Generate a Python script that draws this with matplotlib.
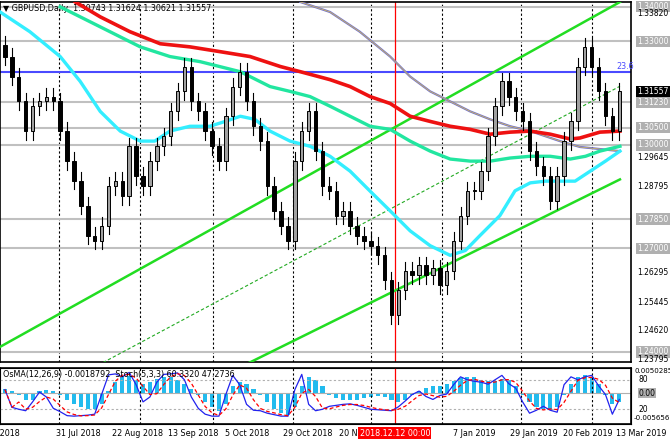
import matplotlib
matplotlib.use("Agg")
import matplotlib.pyplot as plt
import matplotlib.transforms as mtrans
import numpy as np

closes = [1.3256,1.3198,1.3126,1.3040,1.3112,1.3126,1.3140,1.3126,1.3040,1.2953,1.2896,1.2824,1.2737,1.2723,1.2766,
 1.2881,1.2896,1.2852,1.2996,1.2910,1.2881,1.2953,1.2996,1.3025,1.3097,1.3155,1.3227,1.3126,1.3097,1.3040,
 1.2996,1.2953,1.3083,1.3169,1.3212,1.3126,1.3054,1.3011,1.2881,1.2809,1.2766,1.2723,1.2953,1.3040,1.3097,
 1.2982,1.2881,1.2867,1.2795,1.2809,1.2766,1.2737,1.2723,1.2708,1.2680,1.2608,1.2507,1.2579,1.2636,1.2622,
 1.2651,1.2622,1.2642,1.2593,1.2636,1.2723,1.2795,1.2867,1.2867,1.2924,1.3025,1.3112,1.3184,1.3140,1.3097,
 1.3068,1.2982,1.2939,1.2910,1.2838,1.2910,1.3011,1.3068,1.3227,1.3284,1.3227,1.3155,1.3083,1.3040,1.31557]
first_open = 1.3290
stoch = [60,24,20,17,35,55,45,22,15,7,6,7,8,10,50,90,92,86,95,70,35,45,75,91,92,94,80,45,22,10,6,6,50,89,70,30,18,17,12,9,
 6,6,60,91,30,17,20,26,28,30,31,28,24,20,19,18,17,25,37,50,57,46,40,48,51,70,86,80,77,75,71,80,89,72,63,35,12,18,26,18,
 14,70,86,80,86,89,68,50,10,40]
osma = [1.0,0.5,-0.5,-1.5,-1.5,0.5,0.8,0.5,-0.5,-1.5,-2.5,-3.2,-3.6,-3.5,-2.5,0.5,2.5,3.5,3.8,3.0,2.0,2.5,3.2,3.5,3.5,
 3.0,2.0,1.0,-0.5,-2.0,-3.0,-4.0,-2.5,1.5,2.5,2.0,1.0,-0.5,-2.0,-3.5,-4.5,-5.0,-3.0,1.5,3.5,3.0,1.5,-0.5,-1.0,-1.5,
 -1.5,-1.5,-1.2,-0.8,-0.6,-0.8,-1.5,-2.0,-1.5,-0.5,0.5,1.2,1.5,1.5,2.0,2.8,3.3,3.6,3.5,3.0,2.8,2.7,3.2,3.0,1.5,
 -0.5,-2.0,-3.0,-3.5,-3.8,-3.0,-0.5,2.0,3.5,4.0,3.5,2.0,-0.5,-2.5,-2.0]
ma_cyan_x = [-0.7,3.6,8,10.9,13.8,16.7,19.6,21.7,23.9,26.8,29.7,31.9,34.1,36.2,38.4,41.3,44.2,47.1,50,52.9,55.8,58.7,61.6,64.5,66.7,68.8,71.7,73.9,76.1,78.3,80.4,82.6,84.8,87,89.1]
ma_cyan_y = [1.3385,1.3328,1.3256,1.3184,1.3097,1.3040,1.3011,1.3011,1.3040,1.3054,1.3054,1.3068,1.3083,1.3074,1.3040,1.3011,1.2996,1.2967,1.2924,1.2866,1.2809,1.2751,1.2708,1.2680,1.2694,1.2737,1.2795,1.2867,1.2890,1.2895,1.2895,1.2895,1.2924,1.2953,1.2982]
ma_green_x = [8,13.8,19.6,23.9,28.3,34.1,38.4,41.3,44.2,47.1,50,52.9,55.8,58.7,61.6,64.5,67.4,70.3,73.2,76.1,79,81.9,84.1,86.2,89.1]
ma_green_y = [1.3400,1.3342,1.3284,1.3256,1.3241,1.3212,1.3169,1.3155,1.3140,1.3112,1.3083,1.3054,1.3045,1.3011,1.2982,1.2959,1.2953,1.2953,1.2962,1.2967,1.2967,1.2959,1.2967,1.2982,1.2996]
ma_red_x = [10.2,13.8,18.1,22.5,26.8,31.2,35.5,39.9,42.8,47.1,50,52.9,55.8,58.7,61.6,64.5,67.4,70.3,73.2,76.1,79,81.9,83.3,86.2,89.1]
ma_red_y = [1.3414,1.3371,1.3328,1.3293,1.3284,1.3270,1.3256,1.3227,1.3212,1.3189,1.3169,1.3140,1.3120,1.3083,1.3068,1.3054,1.3045,1.3031,1.3037,1.3040,1.3031,1.3017,1.3020,1.3037,1.3040]
ma_blue_x = [42.8,47.1,51.4,55.8,58.7,61.6,64.5,67.4,70.3,73.2,76.1,80.4,83.3,86.2,89.1]
ma_blue_y = [1.3414,1.3385,1.3328,1.3256,1.3198,1.3155,1.3126,1.3097,1.3074,1.3054,1.3040,1.3011,1.2994,1.2988,1.2982]
chan_x = [-0.7, 89.1]
chan_up = [1.2415, 1.3414]
chan_lo = [1.2012, 1.2900]
chan_mid = [1.2210, 1.3170]
hlines = [1.3400,1.3300,1.3123,1.3050,1.3000,1.2785,1.2700,1.2400]
box_labels = ["1.34000","1.33000","1.31230","1.30500","1.30000","1.27850","1.27000","1.24000"]
plain_prices = [1.3382,1.29645,1.28795,1.26295,1.25445,1.2462,1.23795]
fib_level = 1.3210
last_price = 1.31557
date_labels = ["9 Jul 2018","31 Jul 2018","22 Aug 2018","13 Sep 2018","5 Oct 2018","29 Oct 2018","20 Nov 2018","7 Jan 2019","29 Jan 2019","20 Feb 2019","13 Mar 2019"]
date_pos = [-3.6,7.4,15.5,23.6,31.9,40.3,48.4,64.9,73.2,80.9,88.5]
grid_pos = [7.8,19.6,30.1,41.7,53,63.3,74.8,85.1]
red_idx = 56.5

FS = 5.8
RFS = 5.5
opens = [first_open] + closes[:-1]
n = len(closes)
xs = np.arange(n)

W, H = 670, 442
fig = plt.figure(figsize=(6.7, 4.42), dpi=100)
axm = fig.add_axes([0, 1-362/H, 631/W, 360/H])
axi = fig.add_axes([0, 1-424/H, 631/W, 56/H])
xl = (-0.72, 90.7)
for a in (axm, axi):
    a.set_xlim(*xl)
    a.set_xticks([]); a.set_yticks([])
    for s in a.spines.values():
        s.set_linewidth(1.2)
axm.set_ylim(1.2371, 1.3414)

for g in grid_pos:
    for a in (axm, axi):
        a.axvline(g, color='black', ls=(0, (2, 2)), lw=0.8, zorder=1)
for h in hlines:
    axm.axhline(h, color='#c0c0c0', lw=1.5, zorder=1)
axm.axhline(fib_level, color='#4a4aff', lw=1.5, zorder=2)
axm.text(88.6, fib_level+0.0004, "23.6", color='#4a4aff', fontsize=FS, va='bottom', ha='left')
for a in (axm, axi):
    a.axvline(red_idx, color='red', lw=0.9, zorder=2)

axm.plot(chan_x, chan_up, color='#22dd22', lw=1.8, zorder=3)
axm.plot(chan_x, chan_lo, color='#22dd22', lw=1.8, zorder=3)
axm.plot(chan_x, chan_mid, color='#22aa22', lw=0.8, ls=(0, (3, 2)), zorder=3)

axm.plot(ma_blue_x, ma_blue_y, color='#7070d0', lw=1.6, zorder=4)
axm.plot(ma_blue_x, ma_blue_y, color='#d8c050', lw=0.5, zorder=4)
axm.plot(ma_cyan_x, ma_cyan_y, color='#33eeff', lw=2.4, zorder=4)
axm.plot(ma_green_x, ma_green_y, color='#22e6a0', lw=2.4, zorder=4)
axm.plot(ma_red_x, ma_red_y, color='#ee1111', lw=2.6, zorder=4)

for i in range(n):
    o, c = opens[i], closes[i]
    hi = max(o, c) + 0.0025
    lo = min(o, c) - 0.0025
    axm.plot([i, i], [lo, hi], color='black', lw=0.8, zorder=5)
    bull = c >= o
    axm.bar(i, abs(c-o) if abs(c-o) > 0.0003 else 0.0003, bottom=min(o, c), width=0.5,
            color='#a0a0a0' if bull else 'black', edgecolor='black', lw=0.7, zorder=6)

tr = mtrans.blended_transform_factory(axm.transAxes, axm.transData)
for h, t in zip(hlines, box_labels):
    axm.text(1.01, h, t, transform=tr, fontsize=RFS, color='white', va='center', ha='left', clip_on=False,
             bbox=dict(boxstyle='square,pad=0.15', fc='#b0b0b0', ec='none'))
for p in plain_prices:
    axm.text(1.01, p, f"{p:.5f}", transform=tr, fontsize=RFS, color='black', va='center', ha='left', clip_on=False)
axm.text(1.01, last_price, f"{last_price:.5f}", transform=tr, fontsize=RFS, color='white', va='center', ha='left',
         clip_on=False, bbox=dict(boxstyle='square,pad=0.15', fc='black', ec='none'))
axm.text(0.005, 0.995, "▼ GBPUSD,Daily  1.30743 1.31624 1.30621 1.31557", transform=axm.transAxes,
         fontsize=FS, va='top', ha='left')

axo = axi.twinx()
axo.set_ylim(-0.0069, 0.0056)
axo.set_yticks([])
axo.bar(xs, np.array(osma)/1000, width=0.6, color='#22bbee', zorder=2)
axi.set_ylim(-10, 104)
axi.set_zorder(axo.get_zorder()+1); axi.patch.set_visible(False)
st = np.array(stoch, float)
sig = np.convolve(st, np.ones(3)/3, mode='full')[:n]
sig[:2] = st[:2]
axi.plot(xs, st, color='#2222ee', lw=0.9, zorder=3)
axi.plot(xs, sig, color='red', lw=0.9, ls=(0, (3, 2)), zorder=3)
for lv in (80, 20):
    axi.axhline(lv, color='#b0b0b0', ls=(0, (2, 2)), lw=0.8)
axo.axhline(0, color='#b0b0b0', lw=0.8)
axi.text(0.005, 0.97, "OsMA(12,26,9) -0.0018792  Stoch(5,3,3) 60.3320 47.2736", transform=axi.transAxes,
         fontsize=FS, va='top', ha='left')
tri = mtrans.blended_transform_factory(axi.transAxes, axi.transData)
tro = mtrans.blended_transform_factory(axo.transAxes, axo.transData)
axo.text(1.005, 0.0050285, "0.0050285", transform=tro, fontsize=RFS-0.4, va='center', ha='left', clip_on=False)
axi.text(1.012, 80, "80", transform=tri, fontsize=RFS, va='center', ha='left', clip_on=False)
axo.text(1.012, 0, "0.00", transform=tro, fontsize=RFS, va='center', ha='left', clip_on=False,
         bbox=dict(boxstyle='square,pad=0.1', fc='#b0b0b0', ec='none'))
axi.text(1.012, 20, "20", transform=tri, fontsize=RFS, va='center', ha='left', clip_on=False)
axo.text(1.005, -0.005656, "-0.005656", transform=tro, fontsize=RFS-0.4, va='center', ha='left', clip_on=False)

trd = mtrans.blended_transform_factory(axi.transData, fig.transFigure)
for lab, p in zip(date_labels, date_pos):
    fig.text(p, 1-433/H, lab, transform=trd, fontsize=FS, va='center', ha='left')
fig.text(red_idx, 1-433/H, "2018.12.12 00:00", transform=trd, fontsize=FS, va='center', ha='center', color='white',
         bbox=dict(boxstyle='square,pad=0.15', fc='red', ec='none'))

fig.savefig("out.png", dpi=100)
